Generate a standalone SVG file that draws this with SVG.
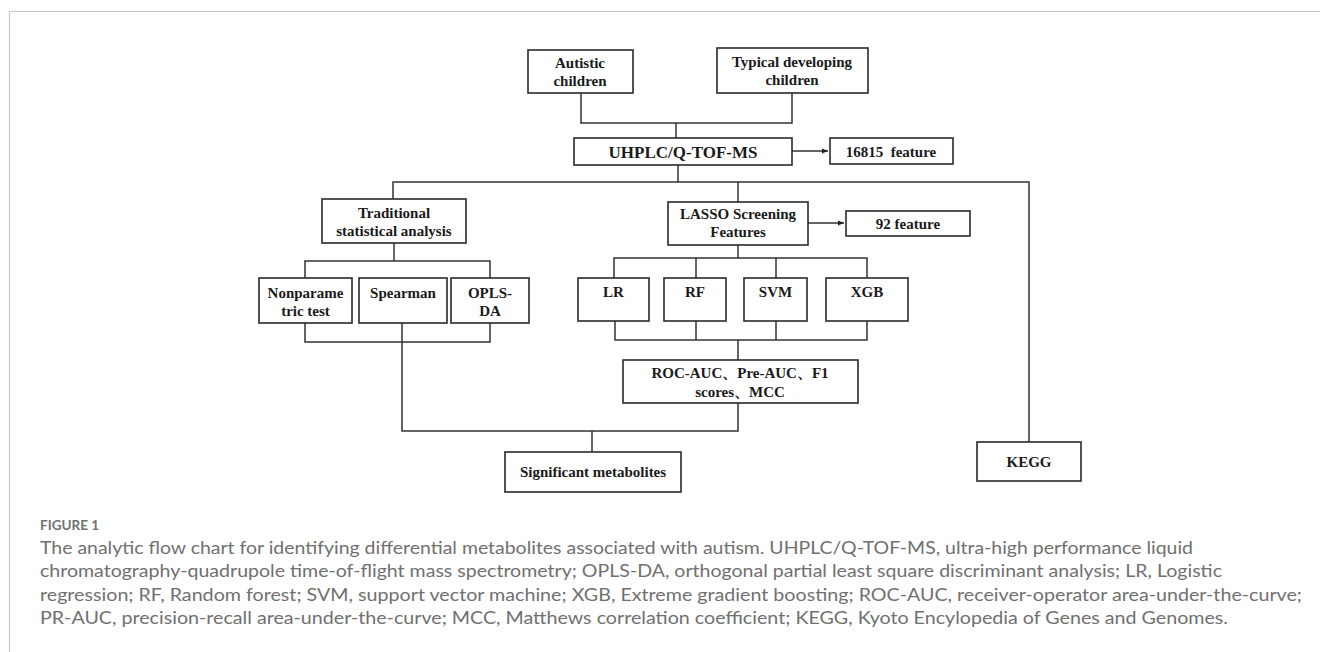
<svg xmlns="http://www.w3.org/2000/svg" width="1320" height="652" viewBox="0 0 1320 652">
<defs>
<marker id="arr" viewBox="0 0 10 10" refX="10" refY="5" markerWidth="6" markerHeight="6" orient="auto" markerUnits="userSpaceOnUse">
<path d="M0,1 L10,5 L0,9 z" fill="#222"/>
</marker>
<style>
.box{fill:#fff;stroke:#2a2a2a;stroke-width:1.6}
.t{font-family:"Liberation Serif","Times New Roman",serif;font-weight:bold;font-size:15px;fill:#1a1a1a;text-anchor:middle}
.big{font-size:17px}
.ln{fill:none;stroke:#333;stroke-width:1.5}
.frame{fill:none;stroke:#c8c8c8;stroke-width:1.2}
.cap{font-family:Lato,"Open Sans",sans-serif;font-size:18px;fill:#707070}
.fig{font-family:Lato,"Open Sans",sans-serif;font-size:13.5px;font-weight:bold;fill:#707070}
</style>
</defs>
<rect width="1320" height="652" fill="#fff"/>
<path class="frame" d="M9.5,652 V11.5 H1320"/>

<g id="connectors">
<path class="ln" d="M581,93 V123 H792 V93"/>
<path class="ln" d="M676,123 V138"/>
<path class="ln" d="M792,151 H828" marker-end="url(#arr)"/>
<path class="ln" d="M678,165 V182"/>
<path class="ln" d="M393,199 V182 H1029 V442"/>
<path class="ln" d="M738,182 V202"/>
<path class="ln" d="M394,243 V261"/>
<path class="ln" d="M305,278 V261 H490 V278"/>
<path class="ln" d="M305,323 V342 H490 V323"/>
<path class="ln" d="M402,323 V431 H738 V403"/>
<path class="ln" d="M592,431 V452"/>
<path class="ln" d="M808,223 H844" marker-end="url(#arr)"/>
<path class="ln" d="M738,245 V258"/>
<path class="ln" d="M614,278 V258 H867 V278"/>
<path class="ln" d="M696,258 V278 M776,258 V278"/>
<path class="ln" d="M615,321 V340 H867 V321"/>
<path class="ln" d="M696,321 V340 M776,321 V340"/>
<path class="ln" d="M738,340 V360"/>
</g>

<g id="autistic">
<rect class="box" x="528" y="50" width="105" height="43"/>
<text class="t" x="580" y="68">Autistic</text>
<text class="t" x="580" y="86">children</text>
</g>
<g id="typical">
<rect class="box" x="717" y="48" width="151" height="45"/>
<text class="t" x="792" y="67">Typical developing</text>
<text class="t" x="792" y="85">children</text>
</g>
<g id="uhplc">
<rect class="box" x="574" y="138" width="218" height="27"/>
<text class="t big" x="683" y="158">UHPLC/Q-TOF-MS</text>
</g>
<g id="f16815">
<rect class="box" x="830" y="138" width="123" height="26"/>
<text class="t" x="891" y="157" xml:space="preserve">16815  feature</text>
</g>
<g id="traditional">
<rect class="box" x="322" y="199" width="144" height="44"/>
<text class="t" x="394" y="218">Traditional</text>
<text class="t" x="394" y="236">statistical analysis</text>
</g>
<g id="nonparametric">
<rect class="box" x="259" y="278" width="93" height="45"/>
<text class="t" x="305.5" y="298">Nonparame</text>
<text class="t" x="305.5" y="316">tric test</text>
</g>
<g id="spearman">
<rect class="box" x="359" y="278" width="88" height="45"/>
<text class="t" x="403" y="298">Spearman</text>
</g>
<g id="oplsda">
<rect class="box" x="451" y="278" width="78" height="45"/>
<text class="t" x="490" y="298">OPLS-</text>
<text class="t" x="490" y="316">DA</text>
</g>
<g id="lasso">
<rect class="box" x="668" y="202" width="140" height="43"/>
<text class="t" x="738" y="219">LASSO Screening</text>
<text class="t" x="738" y="237">Features</text>
</g>
<g id="f92">
<rect class="box" x="846" y="211" width="124" height="25"/>
<text class="t" x="908" y="229">92 feature</text>
</g>
<g id="lr">
<rect class="box" x="578" y="278" width="71" height="43"/>
<text class="t" x="613.5" y="297">LR</text>
</g>
<g id="rf">
<rect class="box" x="664" y="278" width="62" height="43"/>
<text class="t" x="695" y="297">RF</text>
</g>
<g id="svm">
<rect class="box" x="744" y="278" width="63" height="43"/>
<text class="t" x="775.5" y="297">SVM</text>
</g>
<g id="xgb">
<rect class="box" x="826" y="278" width="82" height="43"/>
<text class="t" x="867" y="297">XGB</text>
</g>
<g id="roc">
<rect class="box" x="623" y="360" width="235" height="43"/>
<text class="t" x="740" y="378">ROC-AUC、Pre-AUC、F1</text>
<text class="t" x="740" y="397">scores、MCC</text>
</g>
<g id="significant">
<rect class="box" x="505" y="452" width="176" height="40"/>
<text class="t" x="593" y="477">Significant metabolites</text>
</g>
<g id="kegg">
<rect class="box" x="977" y="442" width="104" height="39"/>
<text class="t" x="1029" y="467">KEGG</text>
</g>

<g id="caption">
<text class="fig" x="40" y="530">FIGURE 1</text>
<text class="cap" x="40" y="554" textLength="1153" lengthAdjust="spacingAndGlyphs">The analytic flow chart for identifying differential metabolites associated with autism. UHPLC/Q-TOF-MS, ultra-high performance liquid</text>
<text class="cap" x="40" y="577" textLength="1182" lengthAdjust="spacingAndGlyphs">chromatography-quadrupole time-of-flight mass spectrometry; OPLS-DA, orthogonal partial least square discriminant analysis; LR, Logistic</text>
<text class="cap" x="40" y="601" textLength="1262" lengthAdjust="spacingAndGlyphs">regression; RF, Random forest; SVM, support vector machine; XGB, Extreme gradient boosting; ROC-AUC, receiver-operator area-under-the-curve;</text>
<text class="cap" x="40" y="624" textLength="1188" lengthAdjust="spacingAndGlyphs">PR-AUC, precision-recall area-under-the-curve; MCC, Matthews correlation coefficient; KEGG, Kyoto Encylopedia of Genes and Genomes.</text>
</g>
</svg>
